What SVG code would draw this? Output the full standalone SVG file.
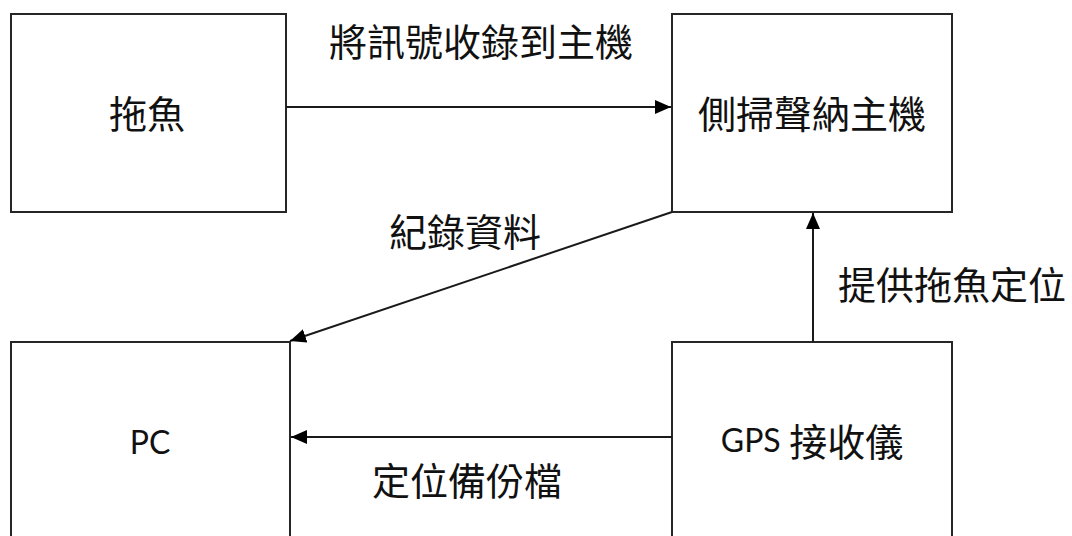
<svg xmlns="http://www.w3.org/2000/svg" width="1072" height="536" viewBox="0 0 1072 536">
  <style>
    .box { fill: #ffffff; stroke: #262626; stroke-width: 2; }
    .cjk { font-family: "Noto Sans CJK TC", "Noto Sans CJK SC", sans-serif; font-size: 38px; fill: #111; text-anchor: middle; dominant-baseline: central; }
    .lat { font-family: "Lato", "Liberation Sans", sans-serif; font-size: 32px; }
    .conn { stroke: #1a1a1a; stroke-width: 2; fill: none; marker-end: url(#arrow); }
  </style>
  <defs>
    <marker id="arrow" markerUnits="userSpaceOnUse" markerWidth="18" markerHeight="14" refX="16" refY="7" orient="auto">
      <path d="M0,0 L16,7 L0,14 Z" fill="#000"/>
    </marker>
  </defs>
  <rect width="1072" height="536" fill="#ffffff"/>
  <g id="node-towfish">
    <rect class="box" x="11" y="14" width="275" height="198"/>
    <text class="cjk" x="147" y="111">拖魚</text>
  </g>
  <g id="node-sonar">
    <rect class="box" x="672" y="14" width="280" height="198"/>
    <text class="cjk" x="812" y="111">側掃聲納主機</text>
  </g>
  <g id="node-pc">
    <rect class="box" x="11" y="342" width="279" height="200"/>
    <text class="cjk lat" x="150" y="441">PC</text>
  </g>
  <g id="node-gps">
    <rect class="box" x="672" y="342" width="280" height="200"/>
    <text class="cjk" x="812" y="439"><tspan class="lat">GPS</tspan> 接收儀</text>
  </g>
  <g id="connectors">
    <line class="conn" x1="286" y1="107" x2="671" y2="107"/>
    <line class="conn" x1="672" y1="212" x2="290" y2="341"/>
    <line class="conn" x1="813" y1="342" x2="813" y2="213"/>
    <line class="conn" x1="672" y1="437" x2="291" y2="437"/>
    <text class="cjk" x="481" y="39">將訊號收錄到主機</text>
    <text class="cjk" x="465" y="229">紀錄資料</text>
    <text class="cjk" x="952" y="282">提供拖魚定位</text>
    <text class="cjk" x="467" y="478">定位備份檔</text>
  </g>
</svg>
